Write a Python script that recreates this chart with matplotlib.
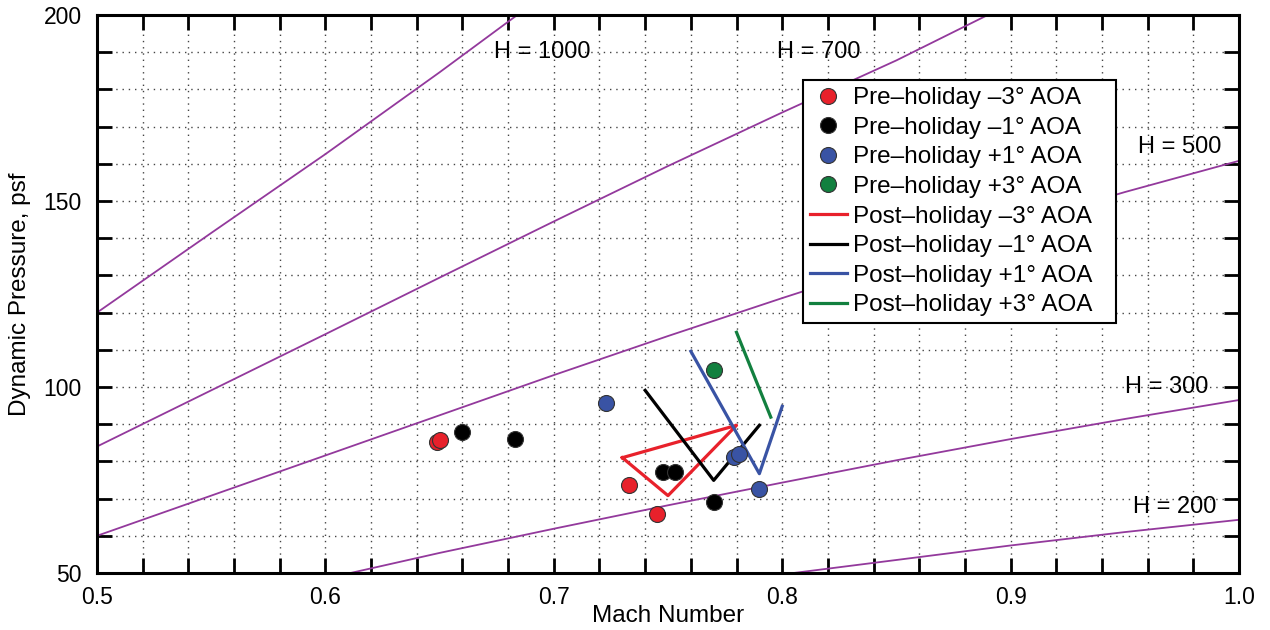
import matplotlib
matplotlib.use("Agg")
import matplotlib.pyplot as plt
from matplotlib.lines import Line2D

plt.rcParams['font.family'] = ['Liberation Sans', 'DejaVu Sans']

# ---- constant-H reference curves (Mach, dynamic pressure) ----
h1000_M = [0.50, 0.55, 0.60, 0.65, 0.684]
h1000_q = [120.0, 141.4, 162.6, 184.6, 200.0]
h700_M = [0.50, 0.55, 0.60, 0.65, 0.70, 0.75, 0.80, 0.85, 0.89]
h700_q = [84.0, 99.1, 114.2, 129.4, 144.5, 159.4, 173.8, 187.8, 200.0]
h500_M = [0.50, 0.55, 0.60, 0.65, 0.70, 0.75, 0.80, 0.85, 0.90, 0.95, 1.00]
h500_q = [60.0, 70.8, 81.6, 92.4, 103.2, 113.7, 123.9, 133.8, 143.4, 152.4, 160.8]
h300_M = [0.611, 0.65, 0.70, 0.75, 0.80, 0.85, 0.90, 0.95, 1.00]
h300_q = [50.0, 55.4, 61.9, 68.2, 74.3, 80.3, 86.0, 91.4, 96.5]
h200_M = [0.805, 0.85, 0.90, 0.95, 1.00]
h200_q = [50.0, 53.5, 57.4, 61.0, 64.3]

h_labels = ["H = 1000", "H = 700", "H = 500", "H = 300", "H = 200"]
h_label_M = [0.695, 0.816, 0.974, 0.9685, 0.972]
h_label_q = [190.0, 190.0, 164.6, 100.0, 67.7]

# ---- pre-holiday points ----
pre_m3_M = [0.649, 0.650, 0.733, 0.745]
pre_m3_q = [85.3, 85.8, 73.6, 65.9]
pre_m1_M = [0.660, 0.683, 0.748, 0.753, 0.770]
pre_m1_q = [88.0, 86.0, 77.2, 77.2, 69.2]
pre_p1_M = [0.723, 0.779, 0.781, 0.790]
pre_p1_q = [95.6, 81.3, 82.0, 72.5]
pre_p3_M = [0.770]
pre_p3_q = [104.7]

# ---- post-holiday lines ----
post_m3_M = [0.730, 0.780, 0.750, 0.730]
post_m3_q = [81.0, 89.7, 70.8, 81.0]
post_m1_M = [0.740, 0.770, 0.790]
post_m1_q = [99.1, 74.9, 89.7]
post_p1_M = [0.760, 0.790, 0.800]
post_p1_q = [109.6, 76.7, 94.8]
post_p3_M = [0.780, 0.795]
post_p3_q = [114.7, 91.9]

x_ticks = [0.5, 0.6, 0.7, 0.8, 0.9, 1.0]
x_tick_labels = ["0.5", "0.6", "0.7", "0.8", "0.9", "1.0"]
y_ticks = [50, 100, 150, 200]
y_tick_labels = ["50", "100", "150", "200"]

RED = '#e8212b'
BLACK = '#000000'
BLUE = '#3953a4'
GREEN = '#12803f'
PURPLE = '#93399c'

fig = plt.figure(figsize=(12.7, 6.3), dpi=100)
ax = fig.add_axes([97/1270, 1 - 573/630, (1239-97)/1270, (573-15)/630])

ax.set_xlim(0.5, 1.0)
ax.set_ylim(50, 200)

# grid
ax.set_xticks([0.5 + 0.02*i for i in range(26)], minor=True)
ax.set_yticks([50 + 10*i for i in range(16)], minor=True)
ax.grid(True, which='both', linestyle=(0, (1, 3.5)), color='#444444', linewidth=1.0)
ax.set_axisbelow(True)

# reference curves
for Ms, qs in [(h1000_M, h1000_q), (h700_M, h700_q), (h500_M, h500_q),
               (h300_M, h300_q), (h200_M, h200_q)]:
    ax.plot(Ms, qs, color=PURPLE, lw=1.3, zorder=2, clip_on=True)

for lab, m, q in zip(h_labels, h_label_M, h_label_q):
    ax.text(m, q, lab, ha='center', va='center', fontsize=17, zorder=3)

# post-holiday lines
lw = 2.3
ax.plot(post_m3_M, post_m3_q, color=RED, lw=lw, zorder=4)
ax.plot(post_m1_M, post_m1_q, color=BLACK, lw=lw, zorder=4)
ax.plot(post_p1_M, post_p1_q, color=BLUE, lw=lw, zorder=4)
ax.plot(post_p3_M, post_p3_q, color=GREEN, lw=lw, zorder=4)

# pre-holiday points
ms = 11.5
mk = dict(marker='o', linestyle='none', markersize=ms, markeredgecolor='#333333',
          markeredgewidth=0.8, zorder=5)
ax.plot(pre_m3_M, pre_m3_q, markerfacecolor=RED, **mk)
ax.plot(pre_m1_M, pre_m1_q, markerfacecolor=BLACK, **mk)
ax.plot(pre_p1_M, pre_p1_q, markerfacecolor=BLUE, **mk)
ax.plot(pre_p3_M, pre_p3_q, markerfacecolor=GREEN, **mk)

# ticks
ax.set_xticks(x_ticks)
ax.set_xticklabels(x_tick_labels)
ax.set_yticks(y_ticks)
ax.set_yticklabels(y_tick_labels)
ax.tick_params(which='both', direction='in', length=11, width=2.0,
               top=True, right=True, labelsize=16.5)
ax.tick_params(axis='x', which='major', pad=9)
ax.tick_params(axis='y', which='major', pad=11)
for s in ax.spines.values():
    s.set_linewidth(2.2)

ax.set_xlabel("Mach Number", fontsize=17.5)
ax.set_ylabel("Dynamic Pressure, psf", fontsize=17.5)
ax.xaxis.set_label_coords(0.5, -0.058)
ax.yaxis.set_label_coords(-0.058, 0.5)

# legend
def mh(c):
    return Line2D([], [], marker='o', linestyle='none', markersize=ms,
                  markerfacecolor=c, markeredgecolor='#333333', markeredgewidth=0.8)
def lh(c):
    return Line2D([], [], color=c, lw=2.3)

handles = [mh(RED), mh(BLACK), mh(BLUE), mh(GREEN), lh(RED), lh(BLACK), lh(BLUE), lh(GREEN)]
labels = ["Pre\u2013holiday \u20133\u00b0 AOA", "Pre\u2013holiday \u20131\u00b0 AOA",
          "Pre\u2013holiday +1\u00b0 AOA", "Pre\u2013holiday +3\u00b0 AOA",
          "Post\u2013holiday \u20133\u00b0 AOA", "Post\u2013holiday \u20131\u00b0 AOA",
          "Post\u2013holiday +1\u00b0 AOA", "Post\u2013holiday +3\u00b0 AOA"]
leg = ax.legend(handles, labels, loc='upper left',
                bbox_to_anchor=(0.618, 0.45, 0.274, 0.4335), mode='expand',
                borderaxespad=0, fontsize=17.5, frameon=True, fancybox=False,
                edgecolor='black', framealpha=1, handlelength=1.5, handletextpad=0.25,
                labelspacing=0.31, borderpad=0.3)
leg.get_frame().set_linewidth(1.5)
leg.set_zorder(6)

fig.savefig("out.png", dpi=100)
